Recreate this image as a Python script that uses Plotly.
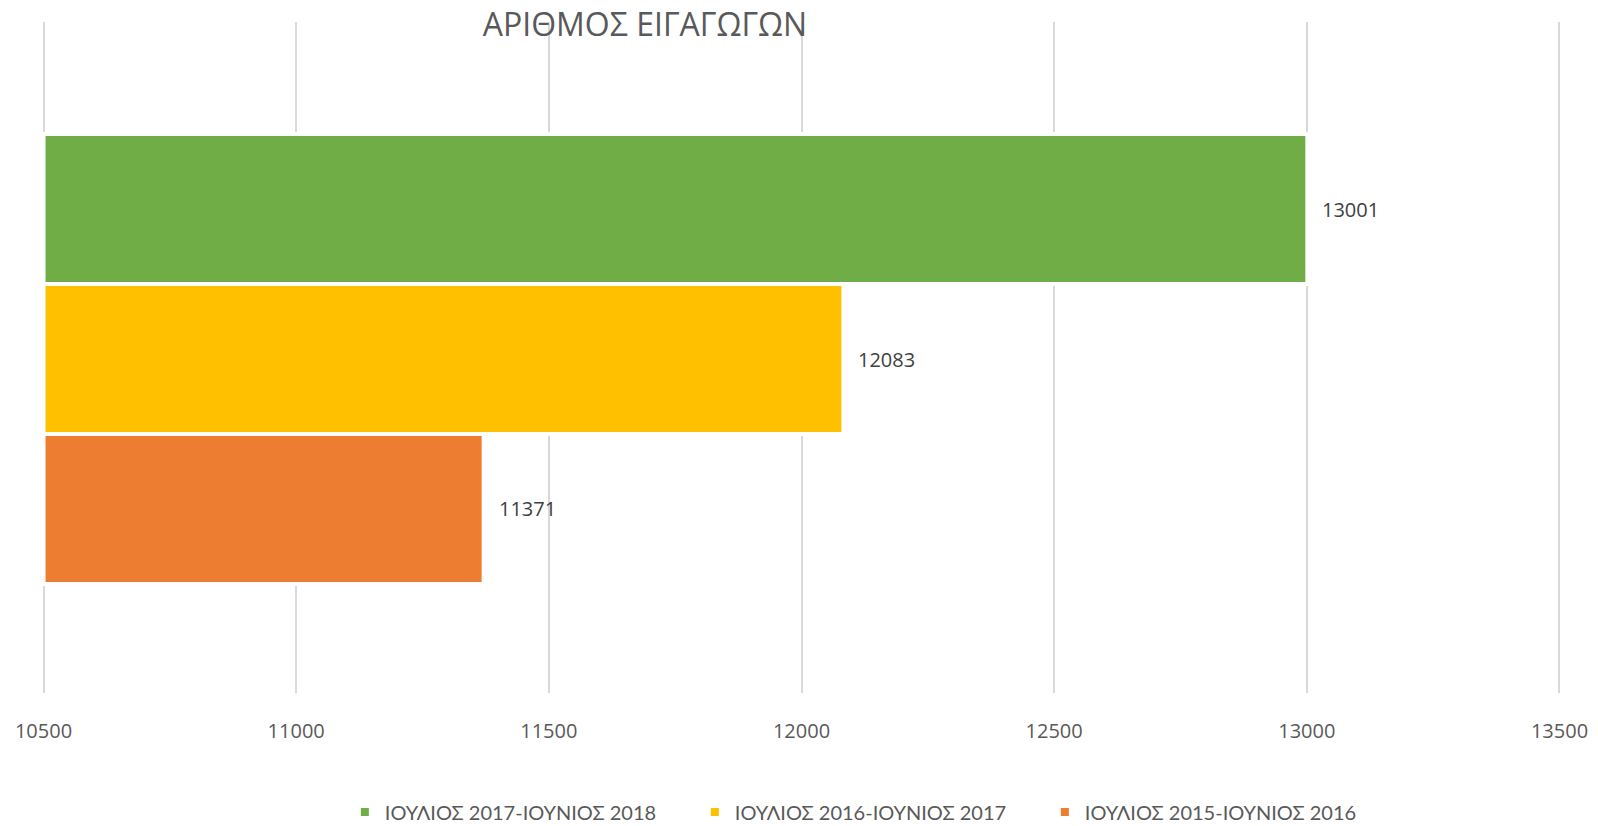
import plotly.graph_objects as go

# periods from bottom bar to top bar
periods = ["ΙΟΥΛΙΟΣ 2015-ΙΟΥΝΙΟΣ 2016", "ΙΟΥΛΙΟΣ 2016-ΙΟΥΝΙΟΣ 2017", "ΙΟΥΛΙΟΣ 2017-ΙΟΥΝΙΟΣ 2018"]
entries = [11371, 12083, 13001]
colors = ["#ED7D31", "#FFC000", "#70AD47"]
x_ticks = [10500, 11000, 11500, 12000, 12500, 13000, 13500]

grey = "#595959"
base = x_ticks[0]

fig = go.Figure()
for i, (p, v, c) in enumerate(zip(periods, entries, colors)):
    fig.add_trace(go.Bar(
        x=[v - base], base=base, y=[i], name=p, orientation="h", width=1.0,
        marker=dict(color=c, line=dict(color="white", width=4)),
        hovertemplate=f"{p}: {v}<extra></extra>",
    ))
    fig.add_annotation(x=v, y=i, text=str(v), showarrow=False,
                       xanchor="left", xshift=13,
                       font=dict(family="Open Sans", size=20, color="#404040"))

# page body has an 8px margin, so the figure is 8px smaller than the window
fig.update_layout(
    width=1590, height=818,
    barmode="overlay",
    plot_bgcolor="white", paper_bgcolor="white",
    margin=dict(l=34, r=37, t=14, b=133, autoexpand=False),
    title=dict(text="ΑΡΙΘΜΟΣ ΕΙΓΑΓΩΓΩΝ", x=0.4006, xanchor="center",
               y=0.979, yanchor="middle", yref="container",
               font=dict(family="Open Sans", size=32, color=grey)),
    legend=dict(orientation="h", traceorder="reversed", x=0.545, xanchor="center",
                y=0.0171, yanchor="middle", yref="container",
                entrywidth=305, entrywidthmode="pixels",
                font=dict(family="Lato", size=20, color=grey)),
    showlegend=True,
)
fig.update_xaxes(range=[10497, 13503], tickvals=x_ticks,
                 ticktext=[str(t) for t in x_ticks], showgrid=True,
                 gridcolor="#D9D9D9", gridwidth=2, zeroline=False,
                 automargin=False, ticklabelstandoff=24,
                 tickfont=dict(family="Open Sans", size=20, color=grey))
fig.update_yaxes(range=[-1.227, 3.247], showticklabels=False, showgrid=False,
                 zeroline=False, automargin=False)

fig.write_html("out.html")
